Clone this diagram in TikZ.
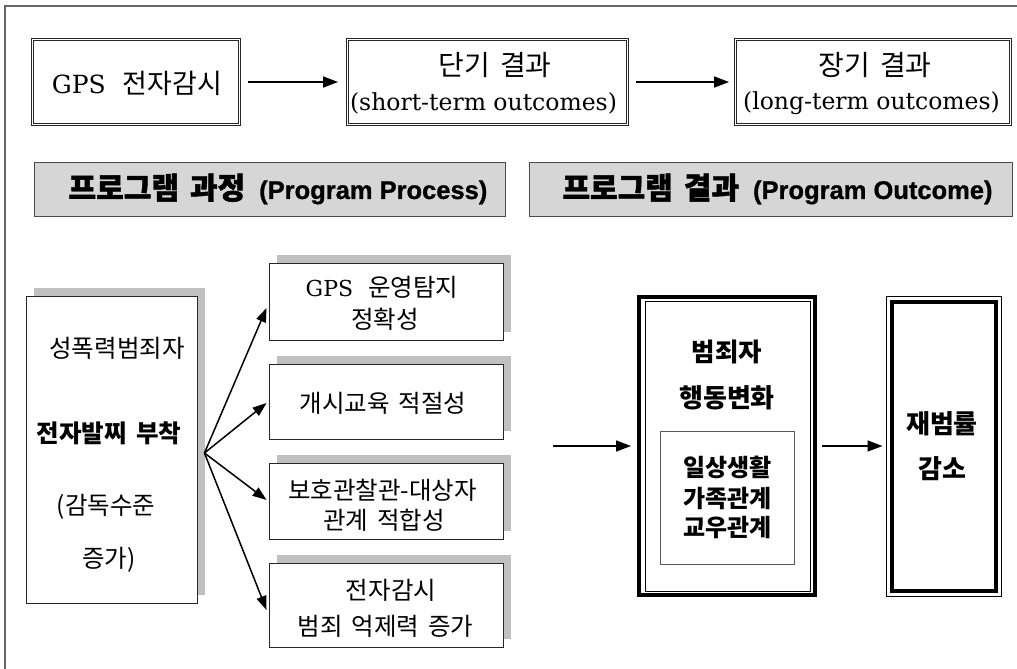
\documentclass[tikz,border=0pt]{standalone}
\usepackage{fontspec}
\usetikzlibrary{arrows.meta,shadows,calc}
\newfontfamily\kr{Noto Sans CJK KR}[WordSpace=1.6]
\newfontfamily\krh{Noto Sans CJK KR}[WordSpace=1.6, BoldFeatures={FakeBold=1.5}]
\newfontfamily\ser{DejaVu Serif}
\newfontfamily\hsans{Liberation Sans}[BoldFeatures={FakeBold=1}]
\definecolor{shadowgray}{HTML}{C0C0C0}
\definecolor{hdrfill}{HTML}{D6D6D6}
\definecolor{framegray}{HTML}{666666}
\newcommand{\fs}[1]{\fontsize{#1}{#1}\selectfont}
\begin{document}
\begin{tikzpicture}[x=1pt,y=-1pt,
  topbox/.style={draw=black!85, double, double distance=1.4pt, line width=0.7pt, inner sep=0, minimum height=85.2pt},
  hdrbox/.style={draw=black!70, line width=0.8pt, fill=hdrfill, inner sep=0, minimum height=54pt},
  shbox/.style={draw=black!85, line width=0.9pt, fill=white, inner sep=0, drop shadow={shadow xshift=8pt, shadow yshift=8pt, fill=shadowgray, opacity=1}},
  txt/.style={inner sep=0, anchor=center},
  arr/.style={line width=1.5pt, -{Triangle[length=15pt,width=11pt]}},
  fanarr/.style={line width=1.5pt, -{Triangle[length=14pt,width=10pt]}},
]
\useasboundingbox[fill=white] (0,0) rectangle (1017,669);
\draw[framegray, line width=1.2pt] (5,669) -- (5,6) -- (1017,6);

% top row
\node[topbox, minimum width=207.2pt] (t1) at (136,82) {};
\node[topbox, minimum width=280.2pt] (t2) at (487.5,82) {};
\node[topbox, minimum width=275.2pt] (t3) at (873,82) {};
\node[txt] (t1a) at (137,83) {{\ser\fs{25}GPS}\hspace{17pt}{\kr\fs{27}전자감시}};
\node[txt] (t2a) at (495,65.5) {\kr\fs{28}단기 결과};
\node[txt] (t2b) at (483.5,103.5) {\ser\fs{23.5}(short-term outcomes)};
\node[txt] (t3a) at (875,65.5) {\kr\fs{28}장기 결과};
\node[txt] (t3b) at (871.5,103.5) {\ser\fs{23.5}(long-term outcomes)};
\draw[arr, shorten <=8pt, shorten >=9pt] (t1) -- (t2);
\draw[arr, shorten <=8pt, shorten >=6pt] (t2) -- (t3);

% headers
\node[hdrbox, minimum width=471pt] (h1) at (269.5,189) {};
\node[txt] (h1t) at (278,189) {{\krh\bfseries\fs{30}프로그램 과정}\hspace{14pt}{\hsans\bfseries\fs{25.5}(Program Process)}};
\node[hdrbox, minimum width=483pt] (h2) at (770.5,189) {};
\node[txt] (h2t) at (777.5,189) {{\krh\bfseries\fs{30}프로그램 결과}\hspace{14pt}{\hsans\bfseries\fs{25.5}(Program Outcome)}};

% left box
\node[shbox, minimum width=171pt, minimum height=307pt] (lb) at (111.5,449.5) {};
\node[txt] (lb1) at (117,348) {\kr\fs{24.5}성폭력범죄자};
\node[txt] (lb2) at (109,433) {\kr\bfseries\fs{24.5}전자발찌 부착};
\node[txt] (lb3) at (106,507) {\kr\fs{24.5}(감독수준};
\node[txt] (lb4) at (109,560) {\kr\fs{24.5}증가)};

% right column boxes
\node[shbox, minimum width=234pt, minimum height=77pt] (r1) at (386,301.5) {};
\node[shbox, minimum width=234pt, minimum height=75pt] (r2) at (386,401.5) {};
\node[shbox, minimum width=234pt, minimum height=76pt] (r3) at (386,501) {};
\node[shbox, minimum width=234pt, minimum height=84pt] (r4) at (386,605) {};
\node[txt] (r1a) at (382,287) {{\ser\fs{22}GPS}\hspace{15pt}{\kr\fs{24.5}운영탐지}};
\node[txt] (r1b) at (385,319) {\kr\fs{24.5}정확성};
\node[txt] (r2a) at (383,403) {\kr\fs{24.5}개시교육 적절성};
\node[txt] (r3a) at (382.5,490) {\kr\fs{24.5}보호관찰관-대상자};
\node[txt] (r3b) at (384,520) {\kr\fs{24.5}관계 적합성};
\node[txt] (r4a) at (391,590) {\kr\fs{24.5}전자감시};
\node[txt] (r4b) at (385.5,626) {\kr\fs{24.5}범죄 억제력 증가};

% fan arrows
\coordinate (fan) at ($(lb.east)+(7,3.5)$);
\draw[fanarr] (fan) -- ([shift={(-2,6.5)}]r1.west);
\draw[fanarr] (fan) -- ([shift={(-2,1.5)}]r2.west);
\draw[fanarr] (fan) -- ([shift={(-2,-1)}]r3.west);
\draw[fanarr] (fan) -- ([shift={(-2,5)}]r4.west);

% behaviour change box
\node[draw, line width=4pt, minimum width=176pt, minimum height=298pt, inner sep=0] (bb) at (727,446) {};
\draw[line width=1pt] ([shift={(8,6)}]bb.north west) rectangle ([shift={(-7,-6)}]bb.south east);
\node[txt] (bb1) at (727,352) {\kr\bfseries\fs{25.5}범죄자};
\node[txt] (bb2) at (727,398) {\kr\bfseries\fs{26}행동변화};
\node[draw=black!65, line width=0.8pt, minimum width=134pt, minimum height=133pt, inner sep=0] (ib) at (727,497.5) {};
\node[txt] (ib1) at (727.5,467) {\kr\bfseries\fs{24}일상생활};
\node[txt] (ib2) at (727.5,498) {\kr\bfseries\fs{24}가족관계};
\node[txt] (ib3) at (727.5,528) {\kr\bfseries\fs{24}교우관계};

\coordinate (mid) at (553,446);
\draw[arr, shorten >=6pt] (mid) -- (bb);

% recidivism box
\node[draw, line width=1pt, minimum width=115pt, minimum height=300pt, inner sep=0] (rr) at (943.5,446) {};
\draw[line width=4pt] ([shift={(6,6)}]rr.north west) rectangle ([shift={(-6,-6)}]rr.south east);
\node[txt] (rr1) at (942,424) {\kr\bfseries\fs{26}재범률};
\node[txt] (rr2) at (942,469) {\kr\bfseries\fs{26}감소};
\draw[arr, shorten <=5pt, shorten >=3pt] (bb) -- (rr);
\end{tikzpicture}
\end{document}
